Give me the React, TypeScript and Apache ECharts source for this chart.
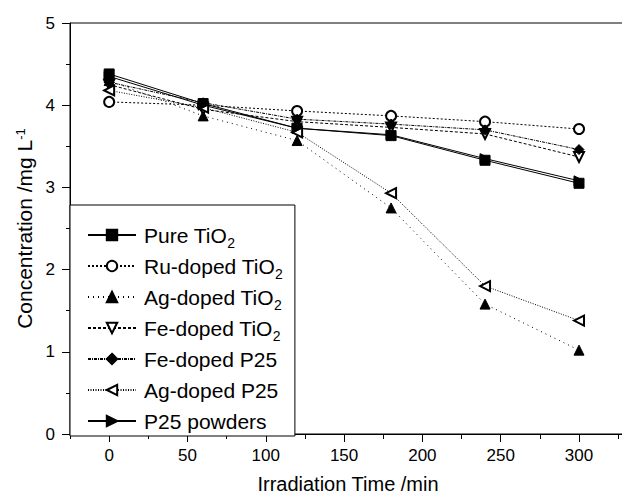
import React, { useEffect, useRef } from "react";
import * as echarts from "echarts";

const times = [0, 60, 120, 180, 240, 300];
const pureTiO2 = [4.38, 4.02, 3.72, 3.63, 3.33, 3.05];
const ruTiO2 = [4.04, 4.0, 3.93, 3.87, 3.8, 3.71];
const agTiO2 = [4.3, 3.87, 3.57, 2.75, 1.58, 1.02];
const feTiO2 = [4.25, 3.95, 3.8, 3.73, 3.65, 3.37];
const feP25 = [4.28, 4.03, 3.83, 3.77, 3.7, 3.46];
const agP25 = [4.18, 3.97, 3.67, 2.93, 1.8, 1.38];
const p25 = [4.35, 4.0, 3.72, 3.64, 3.35, 3.08];

const xMajorTicks = [0, 50, 100, 150, 200, 250, 300];

const FONT = "Liberation Sans, Arial, sans-serif";

type S = {
  name: string;
  values: number[];
  symbol: string;
  rotate: number;
  dash: any;
};

const seriesDefs: S[] = [
  { name: "Pure TiO2", values: pureTiO2, symbol: "rect", rotate: 0, dash: "solid" },
  { name: "Ru-doped TiO2", values: ruTiO2, symbol: "emptyCircle", rotate: 0, dash: [2, 2] },
  { name: "Ag-doped TiO2", values: agTiO2, symbol: "triangle", rotate: 0, dash: [1, 4] },
  { name: "Fe-doped TiO2", values: feTiO2, symbol: "emptyTriangle", rotate: 180, dash: [3, 2] },
  { name: "Fe-doped P25", values: feP25, symbol: "diamond", rotate: 0, dash: [3, 1, 1, 1] },
  { name: "Ag-doped P25", values: agP25, symbol: "emptyTriangle", rotate: 90, dash: [1, 1.5] },
  { name: "P25 powders", values: p25, symbol: "triangle", rotate: -90, dash: "solid" },
];

export default function App() {
  const ref = useRef<HTMLDivElement>(null);
  useEffect(() => {
    if (!ref.current) return;
    const chart = echarts.init(ref.current, undefined, { renderer: "svg" });
    const option: any = {
      animation: false,
      backgroundColor: "#fff",
      textStyle: { fontFamily: FONT },
      grid: {
        left: 70,
        top: 23,
        width: 556,
        height: 411,
        show: true,
        borderColor: "#000",
        borderWidth: 1,
        containLabel: false,
        outerBoundsMode: "none",
      },
      legend: {
        orient: "vertical",
        left: 70,
        top: 205,
        padding: [15, 12, 0, 17],
        itemWidth: 48,
        itemHeight: 13,
        itemGap: 1,
        backgroundColor: "#fff",
        borderColor: "#000",
        borderWidth: 1,
        data: seriesDefs.map((s) => s.name),
        formatter: (n: string) => n.replace("TiO2", "TiO{sub|2}"),
        textStyle: {
          fontFamily: FONT,
          fontSize: 21,
          color: "#000",
          lineHeight: 30,
          padding: [0, 0, 0, 3],
          rich: {
            sub: {
              fontFamily: FONT,
              fontSize: 14,
              lineHeight: 14,
              color: "#000",
              verticalAlign: "bottom",
              padding: [16, 0, 0, 0],
            },
          },
        },
      },
      xAxis: [
        {
          type: "value",
          position: "bottom",
          min: -25,
          max: 330,
          name: "Irradiation Time /min",
          nameLocation: "middle",
          nameGap: 40,
          nameTextStyle: { fontFamily: FONT, fontSize: 20, color: "#000" },
          axisLine: { show: true, onZero: false, lineStyle: { color: "#000", width: 1 } },
          axisTick: {
            show: true,
            length: 8,
            customValues: xMajorTicks,
            lineStyle: { color: "#000" },
          },
          axisLabel: {
            customValues: xMajorTicks,
            margin: 13,
            fontFamily: FONT,
            fontSize: 17,
            color: "#000",
          },
          splitLine: { show: false },
        },
        {
          type: "value",
          position: "bottom",
          min: -25,
          max: 330,
          interval: 25,
          axisLine: { show: false, onZero: false },
          axisTick: { show: true, length: 5, lineStyle: { color: "#000" } },
          axisLabel: { show: false },
          splitLine: { show: false },
        },
      ],
      yAxis: {
        type: "value",
        min: 0,
        max: 5,
        interval: 1,
        name: "Concentration /mg L{sup|-1}",
        nameLocation: "middle",
        nameGap: 30,
        nameTextStyle: {
          fontFamily: FONT,
          fontSize: 21,
          color: "#000",
          rich: {
            sup: {
              fontFamily: FONT,
              fontSize: 13,
              color: "#000",
              verticalAlign: "top",
              padding: [0, 0, 8, 0],
            },
          },
        },
        axisLine: { show: true, onZero: false, lineStyle: { color: "#000", width: 1 } },
        axisTick: { show: true, length: 8, lineStyle: { color: "#000" } },
        minorTick: { show: true, splitNumber: 2, length: 4, lineStyle: { color: "#000" } },
        axisLabel: { margin: 15, fontFamily: FONT, fontSize: 17, color: "#000" },
        splitLine: { show: false },
        minorSplitLine: { show: false },
      },
      series: seriesDefs.map((s) => ({
        type: "line",
        name: s.name,
        xAxisIndex: 0,
        data: times.map((t, i) => [t, s.values[i]]),
        symbol: s.symbol,
        symbolRotate: s.rotate,
        symbolSize: 10,
        showSymbol: true,
        color: "#000",
        itemStyle: { color: "#000", borderColor: "#000", borderWidth: 1 },
        lineStyle: { color: "#000", width: 1, type: s.dash },
      })),
    };
    chart.setOption(option);
    return () => chart.dispose();
  }, []);
  return (
    <div
      ref={ref}
      style={{ position: "fixed", left: 0, top: 0, width: 622, height: 499 }}
    />
  );
}
